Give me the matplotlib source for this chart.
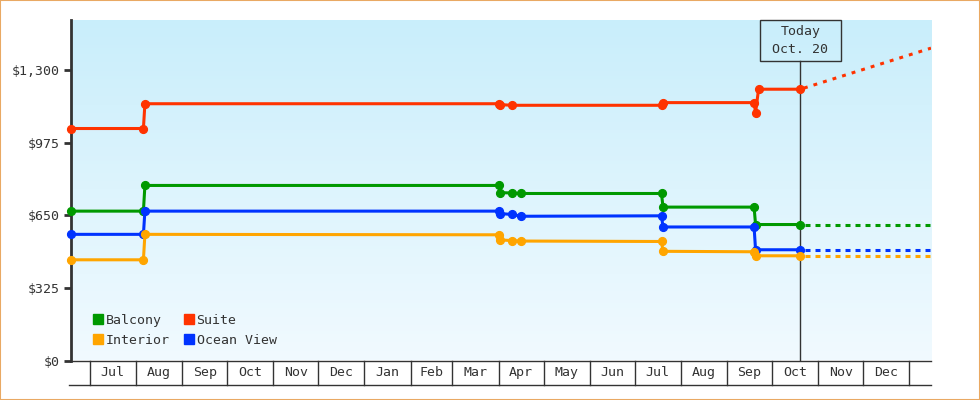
import matplotlib
matplotlib.use('Agg')
import matplotlib.pyplot as plt
import matplotlib.dates as mdates
import matplotlib.transforms as mtransforms
from matplotlib.colors import LinearSegmentedColormap
from matplotlib.lines import Line2D
from matplotlib.patches import Rectangle
import numpy as np
import pandas as pd

plt.rcParams['font.family'] = ['DejaVu Sans Mono']
plt.rcParams['lines.scale_dashes'] = False

# ---------------- data ----------------
balcony_dates = ['2012-06-18 12:00', '2012-08-06', '2012-08-07', '2013-04-01', '2013-04-02',
                 '2013-04-10', '2013-04-16', '2013-07-19', '2013-07-20', '2013-09-19',
                 '2013-09-20', '2013-10-20']
balcony_prices = [669, 669, 784, 784, 752, 750, 748, 748, 687, 687, 609, 609]

interior_dates = ['2012-06-18 12:00', '2012-08-06', '2012-08-07', '2013-04-01', '2013-04-02',
                  '2013-04-10', '2013-04-16', '2013-07-19', '2013-07-20', '2013-09-19',
                  '2013-09-20', '2013-10-20']
interior_prices = [451, 451, 565, 563, 540, 537, 535, 533, 489, 487, 469, 469]

ocean_dates = ['2012-06-18 12:00', '2012-08-06', '2012-08-07', '2013-04-01', '2013-04-02',
               '2013-04-10', '2013-04-16', '2013-07-19', '2013-07-20', '2013-09-19',
               '2013-09-20', '2013-10-20']
ocean_prices = [565, 565, 669, 669, 658, 654, 646, 648, 598, 598, 496, 496]

suite_dates = ['2012-06-18 12:00', '2012-08-06', '2012-08-07', '2013-04-01', '2013-04-02',
               '2013-04-10', '2013-07-19', '2013-07-20', '2013-09-19', '2013-09-20',
               '2013-09-22', '2013-10-20']
suite_prices = [1039, 1039, 1150, 1150, 1146, 1143, 1143, 1155, 1155, 1110, 1215, 1215]

today = '2013-10-20'
today_label = 'Today\nOct. 20'
projection_end = '2014-01-15 12:00'
balcony_projection = [609, 609]
interior_projection = [469, 469]
ocean_projection = [496, 496]
suite_projection = [1215, 1399]

x_start = '2012-06-18 12:00'
x_end = '2014-01-15 12:00'
month_starts = pd.date_range('2012-07-01', '2014-01-01', freq='MS')
month_labels = ['Jul', 'Aug', 'Sep', 'Oct', 'Nov', 'Dec', 'Jan', 'Feb', 'Mar',
                'Apr', 'May', 'Jun', 'Jul', 'Aug', 'Sep', 'Oct', 'Nov', 'Dec']

y_ticks = [0, 325, 650, 975, 1300]
y_tick_labels = ['$0', '$325', '$650', '$975', '$1,300']
y_max = 1525

# ---------------- styling ----------------
c_balcony = '#009900'
c_suite = '#ff3300'
c_interior = '#ffa500'
c_ocean = '#0033ff'
ink = '#333333'
fs = 9.5

fig = plt.figure(figsize=(9.8, 4.0), dpi=100)
fig.patch.set_facecolor('white')

rect = [71 / 980, (400 - 360.5) / 400, 860 / 980, (360.5 - 20) / 400]
bg = fig.add_axes(rect, zorder=0)
cmap = LinearSegmentedColormap.from_list('bg', ['#c9eefb', '#f1faff'])
bg.imshow(np.linspace(0, 1, 256).reshape(-1, 1), cmap=cmap, aspect='auto',
          extent=[0, 1, 0, 1], interpolation='bilinear')
bg.set_axis_off()

ax = fig.add_axes(rect, zorder=1)
ax.patch.set_alpha(0)

def d(lst):
    return pd.to_datetime(lst, format='mixed')

series = [
    (balcony_dates, balcony_prices, balcony_projection, c_balcony),
    (ocean_dates, ocean_prices, ocean_projection, c_ocean),
    (interior_dates, interior_prices, interior_projection, c_interior),
    (suite_dates, suite_prices, suite_projection, c_suite),
]

for dates, prices, proj, col in series:
    ax.plot(d(dates), prices, color=col, lw=2.2, marker='o', ms=5.6,
            solid_joinstyle='miter', zorder=4, clip_on=False)
    if col == c_suite:
        dash = (4.5, (2.8, 4.4))
    else:
        dash = (3.6, (3.6, 3.6))
    ax.plot(d([today, projection_end]), proj, color=col, lw=2.2,
            linestyle=dash, dash_capstyle='butt', zorder=3)

ax.set_xlim(pd.Timestamp(x_start), pd.Timestamp(x_end))
ax.set_ylim(0, y_max)

# today marker
trans = mtransforms.blended_transform_factory(ax.transData, ax.transAxes)
tnum = mdates.date2num(pd.Timestamp(today))
box_bottom = (360.5 - 60.7) / 340.5
ax.plot([tnum, tnum], [0, box_bottom], transform=trans, color=ink, lw=1, zorder=2)
half_w = 40.2 / 1.493
ax.add_patch(Rectangle((tnum - half_w, box_bottom), 2 * half_w, 1 - box_bottom,
                       transform=trans, fill=False, ec=ink, lw=1, clip_on=False, zorder=5))
ax.text(tnum, (1 + box_bottom) / 2, today_label, transform=trans, ha='center',
        va='center', fontsize=fs, color=ink, linespacing=1.5, zorder=6)

# axes styling
for s in ['top', 'right']:
    ax.spines[s].set_visible(False)
ax.spines['left'].set_color(ink)
ax.spines['left'].set_linewidth(2)
ax.spines['bottom'].set_color(ink)
ax.spines['bottom'].set_linewidth(1)
ax.set_yticks(y_ticks)
ax.set_yticklabels(y_tick_labels)
ax.tick_params(axis='y', direction='out', length=5, width=2, color=ink,
               labelsize=fs, labelcolor=ink, pad=3)
ax.set_xticks([])

# month table under axis
row_bottom = (360.5 - 385.3) / 340.5
label_y = (360.5 - 372.5) / 340.5
for ms_ in month_starts:
    xn = mdates.date2num(ms_)
    ax.plot([xn, xn], [0, row_bottom], transform=trans, color=ink, lw=1,
            clip_on=False, zorder=2)
for i, lab in enumerate(month_labels):
    a = mdates.date2num(month_starts[i])
    b = mdates.date2num(month_starts[i + 1])
    ax.text((a + b) / 2, label_y, lab, transform=trans, ha='center', va='center',
            fontsize=fs, color=ink, clip_on=False)
ax.plot([-0.002, 1.0], [row_bottom, row_bottom], transform=ax.transAxes,
        color=ink, lw=1, clip_on=False)

# legend
handles = [Line2D([], [], marker='s', ls='', color=c_balcony, ms=7.7),
           Line2D([], [], marker='s', ls='', color=c_interior, ms=7.7),
           Line2D([], [], marker='s', ls='', color=c_suite, ms=7.7),
           Line2D([], [], marker='s', ls='', color=c_ocean, ms=7.7)]
labels = ['Balcony', 'Interior', 'Suite', 'Ocean View']
leg = ax.legend(handles, labels, ncol=2, frameon=False, loc='lower left',
                bbox_to_anchor=((93 - 71) / 860, 0.041), borderpad=0, borderaxespad=0,
                handlelength=0.8, handletextpad=0.2, columnspacing=1.0,
                labelspacing=0.5, fontsize=fs)
for t in leg.get_texts():
    t.set_color(ink)

# figure border
fig.patches.append(Rectangle((0, 0), 1, 1, transform=fig.transFigure, fill=False,
                             ec='#e9a963', lw=1.5, zorder=10))

fig.savefig('out.png', dpi=100)
